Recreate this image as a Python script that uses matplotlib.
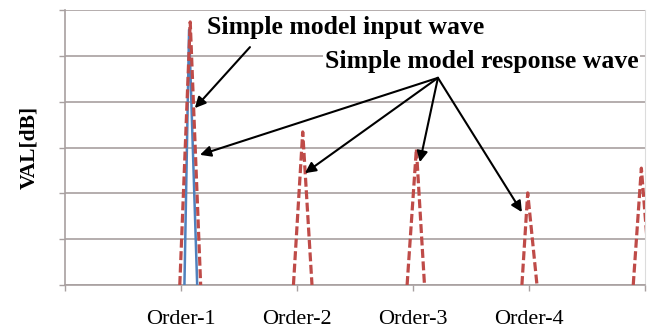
import matplotlib
matplotlib.use("Agg")
import matplotlib.pyplot as plt

# category labels on the x axis
orders = ["Order-1", "Order-2", "Order-3", "Order-4"]

# simple model input wave (blue, solid)
input_x = [1.03, 1.07, 1.14]
input_y = [0.0, 5.57, 0.0]

# simple model response wave (red, dashed), one peak per order
resp_peaks_x = [
    [0.99, 1.08, 1.17],
    [1.97, 2.05, 2.13],
    [2.95, 3.03, 3.10],
    [3.94, 3.99, 4.07],
    [4.90, 4.97, 5.05],
]
resp_peaks_y = [
    [0.0, 5.74, 0.0],
    [0.0, 3.34, 0.0],
    [0.0, 2.97, 0.0],
    [0.0, 2.01, 0.0],
    [0.0, 2.55, 0.0],
]

serif = "Liberation Serif"
grid_col = "#a8a0a0"
red = "#bf4b48"
blue = "#4f81bd"

fig = plt.figure(figsize=(6.53, 3.29), dpi=100)
ax = fig.add_axes([0.0995, 0.1337, 0.888, 0.8359])

ax.plot(input_x, input_y, color=blue, lw=1.8, zorder=3)
for xs, ys in zip(resp_peaks_x, resp_peaks_y):
    ax.plot(xs, ys, color=red, lw=2.3, dashes=(2.8, 1.1), zorder=4)

ax.set_xlim(0, 5)
ax.set_ylim(0, 6)
ax.set_yticks(range(0, 7))
ax.set_yticklabels([])
ax.set_xticks(range(0, 6))
ax.set_xticklabels([""] + orders + [""])
ax.tick_params(axis="both", length=4, color=grid_col, width=1)
ax.tick_params(axis="x", pad=14)
for lbl in ax.get_xticklabels():
    lbl.set_fontfamily(serif)
    lbl.set_fontsize(16)

ax.grid(axis="y", color=grid_col, lw=1.2)
ax.set_axisbelow(True)
for side in ["left", "bottom"]:
    ax.spines[side].set_color(grid_col)
    ax.spines[side].set_linewidth(1.2)
ax.spines["top"].set_visible(False)
ax.spines["right"].set_color("#dcdcdc")
ax.spines["right"].set_linewidth(0.8)

ax.set_ylabel("VAL[dB]", fontfamily=serif, fontsize=15.5, fontweight="bold",
              labelpad=11)

arrow = dict(arrowstyle="-|>", color="black", lw=1.5, mutation_scale=16,
             shrinkA=0, shrinkB=0)
txt_kw = dict(fontfamily=serif, fontsize=18.5, fontweight="bold",
              bbox=dict(facecolor="white", edgecolor="none", pad=1))

ax.text(0.245, 0.935, "Simple model input wave", transform=ax.transAxes,
        va="center", ha="left", zorder=6, **txt_kw)
ax.annotate("", xy=(1.12, 3.86), xytext=(1.595, 5.19), arrowprops=arrow, zorder=7)

ax.text(0.448, 0.811, "Simple model response wave", transform=ax.transAxes,
        va="center", ha="left", zorder=6, **txt_kw)
for hx, hy in [(1.164, 2.84), (2.069, 2.44), (3.06, 2.68), (3.94, 1.59)]:
    ax.annotate("", xy=(hx, hy), xytext=(3.216, 4.52), arrowprops=arrow, zorder=7)

fig.savefig("out.png", dpi=100)
